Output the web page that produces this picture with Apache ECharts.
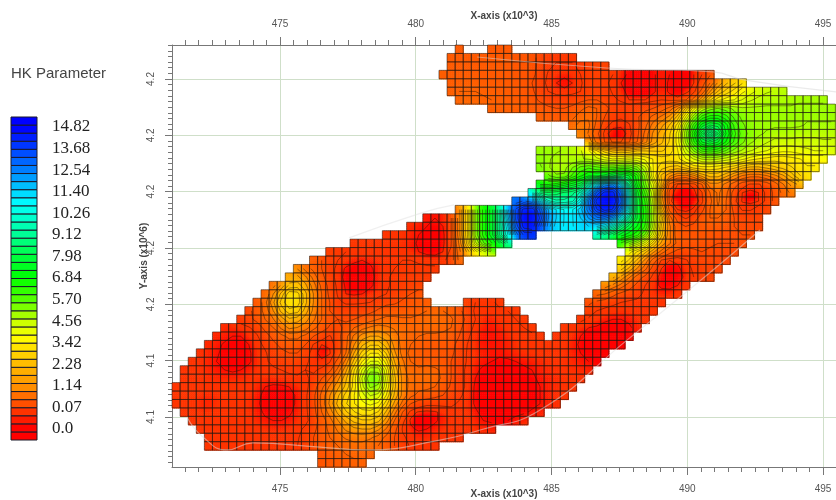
<!DOCTYPE html>
<html><head><meta charset="utf-8">
<style>html,body{margin:0;padding:0;background:#fff}#c{width:836px;height:500px}</style>
<script src="https://cdn.jsdelivr.net/npm/echarts@6/dist/echarts.min.js"></script>
</head><body><div id="c"></div>
<script>
const legendLabels = ['0.0','0.07','1.14','2.28','3.42','4.56','5.70','6.84','7.98','9.12','10.26','11.40','12.54','13.68','14.82'];
const legendHues = [0,15,35,44,56,73,100,120,135,155,172,190,210,225,240];
const fieldStops = [0.02,0.07,0.5,1.14,2.28,3.42,4.56,5.70,6.84,7.98,9.12,10.26,11.40,12.54,13.68,14.82];
const fieldHues = [0,12,20,27,44,56,73,100,120,135,155,172,190,210,225,240];
const xMajorTicks = [475,480,485,490,495];
const yMajorTicks = [4.12,4.14,4.16,4.18,4.20,4.22,4.24];
const rowStartCol = [35,34,34,33,34,34,35,39,45,49,50,51,45,45,45,46,45,44,42,35,31,29,26,22,19,17,15,14,12,11,10,9,8,6,5,4,3,2,1,1,0,0,0,1,2,3,4,4,18,18];
const _ = null;
const row00 = [.6,_,_,_,.55,.55,.55];
const row01 = [.6,.6,.6,.6,.6,.6,.6,.6,.5,.5,.5,.3,.2,.15,.15,.15];
const row02 = [.6,.6,.6,.6,.6,.6,.6,.6,.5,.5,.5,.3,.15,.1,.1,.1,.15,.2,.3,.3];
const row03 = [.7,.6,.6,.6,.6,.6,.6,.6,.6,.5,.5,.5,.25,.1,.06,.05,.06,.12,.2,.25,.2,.12,.05,.02,.01,.01,.02,.06,.03,.01,.01,.03,.12,.35];
const row04 = [.6,.7,.7,.7,.65,.6,.6,.6,.5,.5,.4,.2,.08,.03,0,.03,.1,.2,.25,.15,.08,.03,0,0,0,.02,.06,.02,0,0,.03,.2,.8,1.6,2.2,2.6,3.0];
const row05 = [.7,.8,.8,.8,.75,.7,.65,.65,.55,.55,.45,.25,.12,.07,.05,.08,.12,.2,.3,.2,.1,.05,.01,.01,.01,.02,.06,.02,.01,.01,.06,.5,1.5,2.3,2.8,3.2,3.7,4.0,4.3,4.5,4.6,4.7];
const row06 = [.8,.9,.9,.85,.8,.75,.7,.6,.6,.5,.35,.25,.2,.2,.2,.3,.4,.4,.3,.15,.1,.03,.03,.03,.06,.12,.06,.04,.1,.5,1.4,2.6,3.3,3.6,3.8,4.2,4.5,4.7,4.8,4.8,4.8,4.8,4.9,4.9,4.9,4.9];
const row07 = [.7,.75,.75,.7,.7,.65,.55,.45,.4,.4,.5,.7,.9,.8,.5,.3,.2,.2,.25,.3,.4,.6,.9,1.5,2.7,4.0,5.0,5.5,5.7,5.5,5.2,5,5,5,5,5,5,5,5,5,5,5,5];
const row08 = [.8,.7,.6,.6,.7,1.0,1.1,.8,.4,.2,.15,.2,.35,.6,.9,1.2,1.6,2.4,3.8,5.2,6.2,6.6,6.6,6.2,5.6,5.2,5,5,5,5,5,5,5,5,5,5,5];
const row09 = [1.0,1.3,1.2,.7,.2,.05,.04,.1,.3,.7,1.3,1.8,2.3,3.2,4.8,6.2,7.4,8.0,7.8,7.0,6.0,5.4,5.1,5,5,5,5,5,5,4.9,4.9,4.9,4.9];
const row10 = [1.5,1.1,.5,.05,0,0,.05,.3,.9,1.6,2.1,2.6,3.6,5.2,6.8,8.6,10.3,8.8,7.2,6.2,5.5,5.2,5.0,4.9,4.8,4.8,4.8,4.7,4.7,4.7,4.7,4.7];
const row11 = [1.4,.7,.1,.02,.03,.1,.4,1.0,1.7,2.2,2.7,3.6,5.0,6.4,7.6,8.0,7.6,6.8,6.0,5.4,5.0,4.8,4.6,4.4,4.4,4.4,4.4,4.4,4.4,4.5,4.5];
const row12 = [5,5,5,4.9,4.8,4.6,4.2,3.4,2.8,2.4,2.2,2.3,2.6,2.6,2.6,2.6,2.8,3.4,4.4,5.4,6.2,6.4,6.2,5.7,5.2,4.9,4.6,4.4,4.2,4.0,3.9,3.9,4.0,4.1,4.2,4.2,4.2];
const row13 = [5.2,5,4.8,4.7,4.6,4.6,4.5,4.3,4.0,3.8,3.9,4.0,3.9,3.7,3.4,3.2,3.2,3.3,3.8,4.2,4.6,4.7,4.6,4.4,4.2,3.9,3.6,3.4,3.3,3.2,3.2,3.3,3.4,3.5,3.5,3.5];
const row14 = [5.4,5,4.7,4.8,5.3,5.8,6.0,5.8,5.6,5.6,5.8,5.8,5.4,4.6,3.4,2.8,2.6,2.5,2.8,3.2,3.3,3.3,3.2,3.0,2.8,2.4,2.2,2.2,2.4,2.6,2.8,3.0,3.2,3.4,3.4];
const row15 = [5.4,5,5,5.8,6.4,6.8,6.8,7.0,7.6,8.0,7.6,6.6,5.2,3.4,2.2,1.6,1.1,1.0,1.4,2.0,2.4,2.4,2.0,1.5,1.1,.9,.9,1.1,1.4,1.8,2.4,3.0,3.2];
const row16 = [6.4,6.4,6.6,7,7.4,7.8,9.4,11.4,13,13.2,11.8,8.8,6.8,5.4,4.2,2.4,.3,.03,.02,.05,.4,1.4,1.4,1.0,.6,.2,.1,.1,.2,.6,1.1,1.6,2.0];
const row17 = [10,8.6,8.4,8.6,8.8,9,9.6,11.8,13.8,14.6,14.6,13.4,10.2,7.4,6,4.6,1.2,.05,.01,0,.01,.1,.8,1.2,.9,.2,.03,0,.03,.15,.5,.9,1.2];
const row18 = [12.6,13,12.6,11,9.6,9.2,9.2,9.4,10.6,13,14.6,14.8,14.8,13.8,10.6,7.6,6.4,4.8,1.4,.04,0,0,0,.05,.7,1.2,.8,.15,.02,0,.03,.15,.5];
const row19 = [1.4,3,5.4,6.6,7.4,9.2,12,13.8,14.6,14.8,13.6,12.2,11.4,11,11,11.6,12.8,14,14.6,14.4,13,10.4,7.6,6.6,5,2,.3,.03,.01,.04,.3,.8,1.1,.8,.3,.1,.1,.2,.4];
const row20 = [.05,.03,.05,.1,1.4,3,5.4,6.6,7.4,9.2,11.6,13.8,14.8,14.8,14,12.2,11.4,11,11,11.4,12.2,12.8,13,12.4,11,9.2,7.6,6.6,5,3,1,.2,.1,.2,.6,.8,.8,.6,.4,.3,.3,.3];
const row21 = [.07,.05,.03,.02,.03,.1,1.4,3,5.4,6.6,7.4,9.2,11,13.4,14.6,14.8,13.4,12,11.2,11,11,11.2,11.4,11.4,11,10,8.8,7.8,7.2,6.4,4.8,2.6,1.2,.6,.4,.5,.6,.6,.6,.5,.4,.35,.35,.35];
const row22 = [.08,.08,.07,.05,.03,.01,0,.02,.1,1.4,3,5.4,6.6,7.4,9.2,10.6,12.6,13.8,13.8,_,_,_,_,_,_,_,9.4,8.6,8,7.4,7,6.6,5.6,4.2,2.4,1.2,.6,.5,.5,.5,.5,.4,.4,.4,.4,.4];
const row23 = [.1,.1,.1,.1,.08,.07,.07,.05,.02,0,0,.02,.1,1.2,2.8,4.8,6,6.8,7.6,8.6,_,_,_,_,_,_,_,_,_,_,_,_,_,6,5.4,4.8,4,2.8,1.8,1.2,.7,.5,.5,.5,.45,.4,.4,.4,.4];
const row24 = [.2,.15,.12,.1,.1,.1,.1,.08,.07,.07,.05,.03,.01,.01,.03,.15,1,2,3.2,4,4.6,_,_,_,_,_,_,_,_,_,_,_,_,_,_,_,_,3.6,3,2.4,1.6,1,.5,.3,.3,.35,.4,.35,.3,.3,.3];
const row25 = [.7,.4,.25,.12,.07,.04,.03,.04,.06,.08,.1,.12,.12,.1,.07,.06,.08,.2,.9,_,_,_,_,_,_,_,_,_,_,_,_,_,_,_,_,_,_,_,3.6,3,2.2,1.4,.6,.1,.03,.04,.1,.2,.3,.3,.3,.3];
const row26 = [1.5,1,.7,.4,.2,.07,.02,.01,.01,.02,.05,.1,.12,.15,.15,.15,.15,.15,_,_,_,_,_,_,_,_,_,_,_,_,_,_,_,_,_,_,_,_,_,_,2.8,2.2,1.5,.9,.2,.03,.01,.02,.05,.15,.25,.3,.3];
const row27 = [2,2,1.6,1,.5,.2,.06,.01,0,0,.01,.05,.1,.15,.15,.15,.15,.15,_,_,_,_,_,_,_,_,_,_,_,_,_,_,_,_,_,_,_,_,_,_,2.4,1.8,1.2,.6,.3,.06,.01,0,.01,.04,.12,.2,.3];
const row28 = [1,1.6,2.4,2.5,2,1.3,.7,.25,.08,.02,.01,.01,.02,.05,.1,.15,.2,.25,.3,_,_,_,_,_,_,_,_,_,_,_,_,_,_,_,_,_,_,_,_,_,_,1.8,1.4,1,.6,.3,.12,.05,.02,.01,.03,.1];
const row29 = [.8,1.5,2.4,3.3,3.2,2.4,1.5,.8,.3,.1,.03,.02,.03,.05,.07,.12,.2,.3,.4,.5,_,_,_,_,_,_,_,_,_,_,_,_,_,_,_,_,_,_,_,_,_,.9,.8,.5,.3,.2,.15,.1,.07,.05,.06,.1];
const row30 = [.5,1,1.8,2.8,3.4,3.3,2.4,1.5,.8,.4,.15,.1,.1,.1,.12,.2,.3,.35,.45,.5,.6,.65,_,_,_,_,.2,.12,.08,.1,.15,_,_,_,_,_,_,_,_,_,_,.5,.3,.2,.15,.12,.1,.1,.08,.08,.1];
const row31 = [.3,.6,.9,1.5,2.4,2.9,2.8,2.1,1.4,.8,.4,.25,.2,.2,.25,.3,.45,.6,.6,.6,.6,.7,.8,.9,.8,.7,.5,.2,.1,.06,.07,.1,.12,.15,_,_,_,_,_,_,_,_,.2,.12,.08,.07,.06,.07,.08,.08,.1];
const row32 = [.2,.3,.5,.8,1.1,1.7,2.2,2.1,1.7,1.2,.8,.5,.4,.35,.4,.5,.65,.8,.9,.9,.85,.85,.9,1,1.1,1,.85,.6,.3,.12,.05,.05,.07,.1,.12,.15,_,_,_,_,_,_,.15,.1,.07,.04,.03,.03,.04,.06,.1];
const row33 = [.07,.05,.05,.1,.2,.5,.8,1.2,1.6,1.5,1.3,.9,.6,.35,.3,.5,.8,1,1.2,1.3,1.2,1.1,1,.9,.9,1,1,.9,.8,.5,.2,.08,.04,.04,.05,.08,.1,.12,.15,_,_,_,.12,.09,.05,.03,.02,.01,.01,.01,.02,.05];
const row34 = [.06,.05,.03,.03,.05,.1,.25,.5,.7,.9,.9,.7,.4,.2,.1,.25,.7,1.2,1.7,1.9,1.9,1.7,1.3,1,.85,.8,.7,.7,.7,.6,.4,.15,.05,.03,.03,.04,.05,.07,.08,.1,.12,_,.1,.08,.06,.03,.01,0,0,0,.01,.03];
const row35 = [.06,.05,.02,.01,.01,.03,.07,.15,.3,.5,.6,.6,.4,.1,.03,.04,.2,.7,1.5,2.2,2.6,2.6,2.1,1.4,1,.8,.7,.6,.6,.6,.5,.3,.12,.05,.04,.04,.04,.05,.07,.08,.08,.08,.08,.08,.08,.05,.02,.01,0,0,0,.01];
const row36 = [.07,.06,.04,.01,0,0,.02,.06,.1,.2,.3,.4,.4,.2,.05,.01,.02,.2,.8,1.9,2.8,3.4,3.4,2.6,1.6,1,.7,.6,.55,.5,.5,.45,.3,.1,.06,.05,.04,.04,.05,.06,.07,.07,.07,.07,.07,.07,.05,.03,.01,0,0];
const row37 = [.07,.07,.05,.03,.01,0,0,.02,.06,.1,.15,.2,.25,.25,.15,.07,.04,.1,.5,1.3,2.4,3.4,4.2,4.2,3.2,1.9,1.2,.8,.6,.6,.55,.5,.4,.25,.1,.06,.04,.03,.02,.02,.03,.04,.05,.06,.07,.07,.07,.06,.04,.03,.02];
const row38 = [.08,.07,.07,.06,.04,.03,.02,.03,.05,.07,.08,.1,.12,.15,.15,.12,.1,.15,.3,.9,1.8,3,4.2,5.2,5.2,3.8,2.2,1.3,.9,.9,1,.9,.7,.4,.2,.08,.04,.02,.01,0,0,.01,.02,.03,.05,.06,.07,.07,.07,.06,.06];
const row39 = [.08,.07,.07,.07,.06,.06,.06,.06,.07,.08,.07,.06,.07,.08,.1,.1,.15,.4,.8,1.4,2.2,3.2,4.6,5.7,5.6,4,2.4,1.4,1,1,1.1,1,.7,.4,.2,.08,.03,.01,0,0,0,0,.01,.02,.04,.05,.06,.07,.07,.07];
const row40 = [.1,.09,.08,.08,.07,.07,.08,.08,.08,.08,.06,.03,.02,.02,.03,.05,.08,.2,.7,1.2,1.8,2.4,3.2,4.4,5.4,5.2,3.8,2.4,1.4,1,.9,.9,.8,.6,.35,.2,.08,.02,.01,0,0,0,0,0,.01,.03,.05,.06,.07,.07];
const row41 = [.1,.09,.08,.07,.06,.07,.08,.08,.08,.07,.05,.01,0,0,.01,.04,.08,.3,.9,1.5,2.2,2.8,3.4,4,4.6,4.4,3.4,2.2,1.4,.9,.7,.6,.5,.4,.3,.15,.07,.02,0,0,0,0,0,0,.01,.03,.05,.07,.07];
const row42 = [.1,.09,.07,.05,.04,.06,.08,.08,.08,.07,.04,.01,0,0,.01,.04,.08,.3,.9,1.6,2.4,3,3.4,3.7,3.9,3.7,2.8,1.8,1,.4,.2,.15,.15,.15,.15,.1,.07,.02,0,0,0,0,0,0,.01,.03,.05,.07];
const row43 = [.09,.08,.07,.07,.08,.08,.08,.08,.07,.05,.02,.01,.01,.02,.05,.08,.25,.8,1.3,2,2.6,3,3.3,3.3,3,2.2,1.3,.4,.06,.02,.01,.02,.05,.07,.08,.08,.04,.01,0,0,0,.01,.02,.04,.06];
const row44 = [.08,.08,.08,.08,.08,.08,.08,.07,.06,.04,.03,.03,.04,.06,.08,.2,.6,1,1.5,2,2.4,2.6,2.6,2.4,1.7,.8,.15,.02,0,.01,.02,.05,.07,.08,.08,.05,.03,.02,.02,.03,.05,.07];
const row45 = [.09,.09,.08,.08,.08,.08,.08,.08,.07,.06,.06,.07,.08,.15,.3,.6,.9,1.2,1.6,1.8,1.9,1.9,1.6,1.1,.5,.1,.04,.02,.03,.05,.07,.08,.08,.08,.07,.06,.06];
const row46 = [.09,.09,.08,.08,.08,.08,.08,.08,.08,.08,.09,.1,.2,.4,.6,.8,1,1.2,1.3,1.3,1.2,1,.7,.4,.15,.07,.06,.06,.07,.08,.08,.08];
const row47 = [.1,.09,.09,.08,.08,.08,.08,.08,.09,.1,.1,.12,.2,.4,.5,.7,.8,.9,1,1,.9,.8,.6,.4,.2,.1,.08,.08,.08];
const row48 = [.5,.6,.7,.8,.85,.85,.8];
const row49 = [.5,.55,.65,.7,.75,.75];
const fieldRows = [row00,row01,row02,row03,row04,row05,row06,row07,row08,row09,row10,row11,row12,row13,row14,row15,row16,row17,row18,row19,row20,row21,row22,row23,row24,row25,row26,row27,row28,row29,row30,row31,row32,row33,row34,row35,row36,row37,row38,row39,row40,row41,row42,row43,row44,row45,row46,row47,row48,row49];
const contourLevels = [.03,.12,.4,.8,1.14,1.52,1.9,2.28,2.66,3.04,3.42,3.8,4.18,4.56,4.94,5.32,5.7,6.08,6.46,6.84,7.22,7.6,7.98,8.36,8.74,9.12,9.5,9.88,10.26,10.64,11.02,11.4,11.78,12.16,12.54,12.92,13.3,13.68,14.06,14.44];
const paleEdgeLower = [[471.57,4.12],[472.16,4.1129],[473.05,4.1083],[474.0,4.1108],[476.47,4.1093],[478.2,4.1083],[480.89,4.1118],[482.37,4.1154],[484.58,4.1225],[487.78,4.1473],[490.73,4.1704],[492.68,4.1864]];
const paleEdgeUpper = [[482.26,4.2478],[487.04,4.2439],[490.95,4.2425],[492.13,4.2396],[495.48,4.2354]];
const paleEdgeBand = [[477.54,4.1836],[480.19,4.1924],[481.41,4.1953]];

const X_MIN=471.022,X_MAX=495.479,Y_MIN=4.10225,Y_MAX=4.25207,CELL_W=0.29797,CELL_H=0.0029964;
const cx=c=>X_MIN+(c+.5)*CELL_W, cy=r=>Y_MAX-(r+.5)*CELL_H;

function hueOf(v){
  const n=fieldStops.length;
  if(v<=fieldStops[0])return 0; if(v>=fieldStops[n-1])return 240;
  for(let i=1;i<n;i++) if(v<=fieldStops[i]){
    const t=(v-fieldStops[i-1])/(fieldStops[i]-fieldStops[i-1]);
    return fieldHues[i-1]+t*(fieldHues[i]-fieldHues[i-1]);
  }
}
const hsl=h=>`hsl(${h.toFixed(1)},100%,50%)`;

const cellData=[]; const lookup=[];
fieldRows.forEach((row,r)=>{
  lookup[r]=[];
  row.forEach((v,i)=>{ if(v===null)return; const c=rowStartCol[r]+i; lookup[r][c]=v; cellData.push([cx(c),cy(r),v,r,c]); });
});
const val=(r,c)=>{const a=lookup[r];return a&&a[c]!==undefined?a[c]:null;};
const cornerVal=(r,c)=>{
  let s=0,n=0;[[r-1,c-1],[r-1,c],[r,c-1],[r,c]].forEach(p=>{const v=val(p[0],p[1]);if(v!==null){s+=v;n++;}});
  return s/n;
};

const segs=[];
contourLevels.forEach(L=>{
  for(let r=0;r<49;r++)for(let c=0;c<81;c++){
    const a=val(r,c),b=val(r,c+1),d=val(r+1,c),e=val(r+1,c+1);
    if(a===null||b===null||d===null||e===null)continue;
    const pts=[];
    if((a<L)!==(b<L))pts.push([cx(c+(L-a)/(b-a)),cy(r)]);
    if((b<L)!==(e<L))pts.push([cx(c+1),cy(r+(L-b)/(e-b))]);
    if((d<L)!==(e<L))pts.push([cx(c+(L-d)/(e-d)),cy(r+1)]);
    if((a<L)!==(d<L))pts.push([cx(c),cy(r+(L-a)/(d-a))]);
    if(pts.length===2)segs.push({coords:[pts[0],pts[1]]});
    else if(pts.length===4){segs.push({coords:[pts[0],pts[1]]});segs.push({coords:[pts[2],pts[3]]});}
  }
});

const L_MIN=-0.51,L_MAX=14.46,BANDS=40;
const bandData=[];
for(let b=0;b<BANDS;b++)bandData.push([L_MIN+(b+.5)*(L_MAX-L_MIN)/BANDS]);
const bandHue=k=>{const i=Math.max(0,Math.min(13,Math.floor(k)));const t=Math.max(0,Math.min(1,k-i));return legendHues[i]+t*(legendHues[i+1]-legendHues[i]);};

const minorX=[],minorY=[];
for(let i=0;i<49;i++){const v=471.5+i*.5;if(v<X_MAX)minorX.push(v);}
for(let i=0;i<75;i++){const v=4.104+i*.002;if(v<Y_MAX)minorY.push(+v.toFixed(3));}

const FONT='"Liberation Sans",Arial,sans-serif';
const axisCol='#777';
const gridCol='#cfdfc9';
const nameStyle={fontFamily:FONT,fontSize:10,fontWeight:'bold',color:'#444'};
const xAxisBase=(pos,margin,gap)=>({type:'value',min:X_MIN,max:X_MAX,gridIndex:0,position:pos,axisLine:{lineStyle:{color:axisCol}},
  axisLabel:{customValues:xMajorTicks,fontFamily:FONT,fontSize:10,color:'#555',margin:margin},
  axisTick:{customValues:xMajorTicks,length:8,lineStyle:{color:axisCol}},
  splitLine:{show:true,lineStyle:{color:gridCol,width:1}},
  name:'X-axis (x10^3)',nameLocation:'middle',nameGap:gap,nameMoveOverlap:false,nameTextStyle:nameStyle});
const xMinor=pos=>({type:'value',min:X_MIN,max:X_MAX,gridIndex:0,position:pos,axisLine:{show:false},axisLabel:{show:false},
  axisTick:{customValues:minorX,length:5,lineStyle:{color:axisCol}},splitLine:{show:false}});

const SUB=4;
const option={
  animation:false,backgroundColor:'#fff',
  title:{text:'HK Parameter',left:6,top:61,textStyle:{fontFamily:FONT,fontSize:15,fontWeight:'normal',color:'#444'}},
  grid:[{left:172,top:45,width:664,height:422,outerBoundsMode:'none'},{left:11,top:117,width:26,height:323,outerBoundsMode:'none'}],
  xAxis:[
    xAxisBase('bottom',17,22),
    xAxisBase('top',16,24),
    xMinor('bottom'),xMinor('top'),
    {type:'value',gridIndex:1,min:0,max:1,show:false}
  ],
  yAxis:[
    {type:'value',gridIndex:0,min:Y_MIN,max:Y_MAX,position:'left',axisLine:{lineStyle:{color:axisCol}},
     axisLabel:{customValues:yMajorTicks,rotate:90,fontFamily:FONT,fontSize:10,color:'#555',margin:16,formatter:v=>(+v).toFixed(1)},
     axisTick:{customValues:yMajorTicks,length:7,lineStyle:{color:axisCol}},
     splitLine:{show:true,lineStyle:{color:gridCol,width:1}},
     name:'Y-axis (x10^6)',nameLocation:'middle',nameGap:23,nameRotate:90,nameMoveOverlap:false,nameTextStyle:nameStyle},
    {type:'value',gridIndex:0,min:Y_MIN,max:Y_MAX,position:'left',axisLine:{show:false},axisLabel:{show:false},
     axisTick:{customValues:minorY,length:4,lineStyle:{color:axisCol}},splitLine:{show:false}},
    {type:'value',gridIndex:1,min:L_MIN,max:L_MAX,position:'right',axisLine:{show:false},axisTick:{show:false},splitLine:{show:false},
     axisLabel:{customValues:legendLabels.map((s,i)=>i),margin:15,fontFamily:'"Liberation Serif","Times New Roman",serif',fontSize:17,color:'#222',formatter:v=>legendLabels[Math.round(v)]}}
  ],
  series:[
    {type:'line',xAxisIndex:2,yAxisIndex:1,data:[],silent:true},
    {type:'line',xAxisIndex:3,yAxisIndex:1,data:[],silent:true},
    {type:'custom',xAxisIndex:0,yAxisIndex:0,coordinateSystem:'cartesian2d',silent:true,z:2,clip:false,data:cellData,
     renderItem(p,api){
       const x=api.value(0),y=api.value(1),r=api.value(3),c=api.value(4);
       const a=api.coord([x-CELL_W/2,y+CELL_H/2]),b=api.coord([x+CELL_W/2,y-CELL_H/2]);
       const w=b[0]-a[0],h=b[1]-a[1];
       const k00=cornerVal(r,c),k10=cornerVal(r,c+1),k01=cornerVal(r+1,c),k11=cornerVal(r+1,c+1);
       const kids=[];
       for(let j=0;j<SUB;j++)for(let i=0;i<SUB;i++){
         const u=(i+.5)/SUB,t=(j+.5)/SUB;
         const v=(k00*(1-u)+k10*u)*(1-t)+(k01*(1-u)+k11*u)*t;
         kids.push({type:'rect',shape:{x:a[0]+i*w/SUB,y:a[1]+j*h/SUB,width:w/SUB+.6,height:h/SUB+.6},style:{fill:hsl(hueOf(v))}});
       }
       return {type:'group',children:kids};
     }},
    {type:'lines',coordinateSystem:'cartesian2d',xAxisIndex:0,yAxisIndex:0,silent:true,z:3,large:true,largeThreshold:100,
     lineStyle:{color:'rgba(30,15,0,0.55)',width:0.8,opacity:1},data:segs},
    {type:'custom',xAxisIndex:0,yAxisIndex:0,coordinateSystem:'cartesian2d',silent:true,z:4,clip:false,data:cellData,
     renderItem(p,api){
       const x=api.value(0),y=api.value(1);
       const a=api.coord([x-CELL_W/2,y+CELL_H/2]),b=api.coord([x+CELL_W/2,y-CELL_H/2]);
       return {type:'rect',shape:{x:a[0],y:a[1],width:b[0]-a[0],height:b[1]-a[1]},
         style:{fill:'none',stroke:'rgba(30,25,20,0.68)',lineWidth:0.8}};
     }},
    {type:'line',xAxisIndex:0,yAxisIndex:0,silent:true,z:5,smooth:true,symbol:'none',lineStyle:{color:'rgba(225,225,225,0.5)',width:1.2},data:paleEdgeLower},
    {type:'line',xAxisIndex:0,yAxisIndex:0,silent:true,z:5,smooth:true,symbol:'none',lineStyle:{color:'rgba(215,215,215,0.5)',width:1.2},data:paleEdgeUpper},
    {type:'line',xAxisIndex:0,yAxisIndex:0,silent:true,z:5,smooth:true,symbol:'none',lineStyle:{color:'rgba(225,225,225,0.5)',width:1.2},data:paleEdgeBand},
    {type:'custom',xAxisIndex:4,yAxisIndex:2,coordinateSystem:'cartesian2d',silent:true,z:2,data:bandData,encode:{y:0},
     renderItem(p,api){
       const k=api.value(0),h=(L_MAX-L_MIN)/BANDS;
       const a=api.coord([0,k+h/2]),b=api.coord([1,k-h/2]);
       return {type:'rect',shape:{x:a[0],y:a[1],width:b[0]-a[0],height:b[1]-a[1]},
         style:{fill:hsl(bandHue(k)),stroke:'#1a1a2a',lineWidth:1}};
     }}
  ]
};
const chart=echarts.init(document.getElementById('c'),null,{renderer:'canvas'});
chart.setOption(option);
</script></body></html>
